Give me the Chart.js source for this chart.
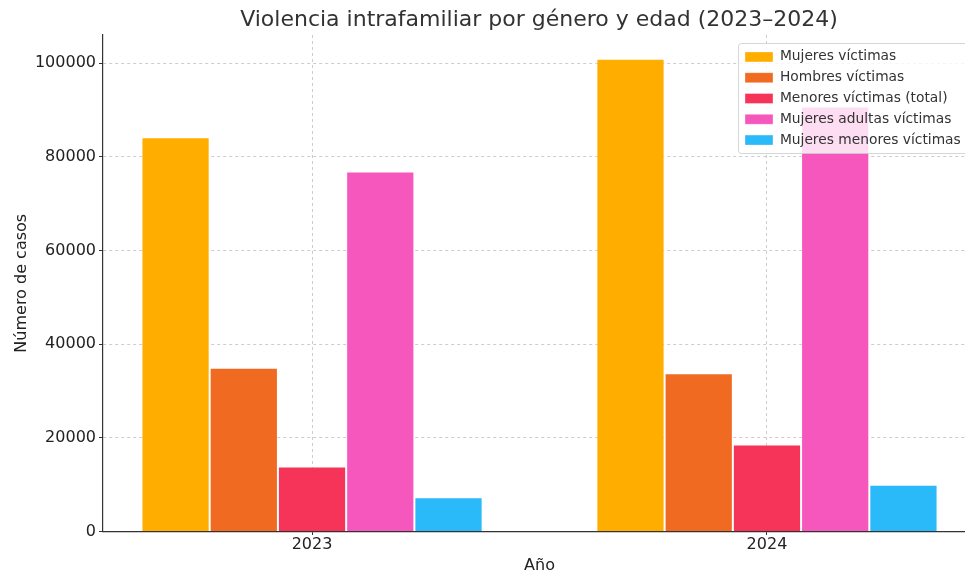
<!DOCTYPE html>
<html>
<head>
<meta charset="utf-8">
<script src="https://cdn.jsdelivr.net/npm/chart.js@4"></script>
<style>
  html, body { margin: 0; padding: 0; overflow: hidden; background: #fff; }
  #wrap { width: 1078px; height: 573px; }
</style>
</head>
<body>
<div id="wrap"><canvas id="chart" width="1078" height="573"></canvas></div>
<script>
const years = [2023, 2024];
const seriesNames = ['Mujeres víctimas', 'Hombres víctimas', 'Menores víctimas (total)', 'Mujeres adultas víctimas', 'Mujeres menores víctimas'];
const mujeres = [84200, 101000];
const hombres = [35000, 33800];
const menores = [13900, 18600];
const mujeresAdultas = [76900, 90800];
const mujeresMenores = [7300, 10000];
const yTicks = [0, 20000, 40000, 60000, 80000, 100000];

const colors = ['#FFAE00', '#F06A22', '#F63358', '#F557BD', '#2AB9F9'];
const values = [mujeres, hombres, menores, mujeresAdultas, mujeresMenores];

const font = 'DejaVu Sans';

// legend drawn after everything, with a translucent box like matplotlib
const legendOnTop = {
    id: 'legendOnTop',
    beforeLayout(chart) {
        chart.legend._layers = () => [];
    },
    afterDraw(chart) {
        const lg = chart.legend;
        const w = 232, h = 110;
        const x = 738, y = 43;
        const dy = y - lg.top;
        lg.left = x;
        lg.top += dy;
        lg.bottom += dy;
        const ctx = chart.ctx;
        ctx.save();
        ctx.fillStyle = 'rgba(255,255,255,0.8)';
        ctx.strokeStyle = 'rgba(204,204,204,0.8)';
        ctx.lineWidth = 1;
        ctx.beginPath();
        ctx.roundRect(x + 0.5, y + 0.5, w, h, 3);
        ctx.fill();
        ctx.stroke();
        ctx.restore();
        lg.draw();
    }
};

new Chart(document.getElementById('chart'), {
    type: 'bar',
    data: {
        labels: years,
        datasets: seriesNames.map((name, i) => ({
            label: name,
            data: values[i],
            backgroundColor: colors[i],
            borderColor: 'rgba(255,255,255,0.35)',
            borderWidth: 1,
            categoryPercentage: 0.75,
            barPercentage: 1
        }))
    },
    plugins: [legendOnTop],
    options: {
        responsive: false,
        animation: false,
        layout: { padding: 0 },
        plugins: {
            title: {
                display: true,
                text: 'Violencia intrafamiliar por género y edad (2023–2024)',
                color: '#333',
                font: { family: font, size: 22, weight: 'normal' },
                padding: { top: 7.5, bottom: 1.1 }
            },
            legend: {
                display: true,
                position: 'chartArea',
                align: 'start',
                labels: {
                    color: '#333',
                    font: { family: font, size: 13.8 },
                    boxWidth: 28,
                    boxHeight: 10,
                    padding: 7
                }
            },
            tooltip: { enabled: false }
        },
        scales: {
            x: {
                type: 'linear',
                min: 2022.5405,
                max: 2024.4595,
                offset: false,
                z: 1,
                afterBuildTicks: s => { s.ticks = years.map(v => ({ value: v })); },
                grid: {
                    offset: false,
                    color: '#cccccc',
                    tickColor: '#333',
                    tickLength: 3.5,
                    tickBorderDash: []
                },
                border: { color: '#333', width: 1.2, dash: [3, 3] },
                ticks: {
                    color: '#222',
                    font: { family: font, size: 16 },
                    padding: 0.5,
                    callback: v => String(v)
                },
                title: {
                    display: true,
                    text: 'Año',
                    color: '#222',
                    font: { family: font, size: 16, lineHeight: 0.9 },
                    padding: { top: 3.4, bottom: 0 }
                }
            },
            y: {
                min: 0,
                max: 106050,
                z: 1,
                afterBuildTicks: s => { s.ticks = yTicks.map(v => ({ value: v })); },
                afterFit: s => { s.width = 103; },
                grid: {
                    color: '#cccccc',
                    tickColor: '#333',
                    tickLength: 4,
                    tickBorderDash: []
                },
                border: { color: '#333', width: 1.2, dash: [3, 3] },
                ticks: {
                    color: '#222',
                    font: { family: font, size: 16 },
                    padding: 3,
                    callback: v => String(v)
                },
                title: {
                    display: true,
                    text: 'Número de casos',
                    color: '#222',
                    font: { family: font, size: 16 },
                    padding: { top: 12, bottom: 0 }
                }
            },
            // empty right-hand box: keeps the plot area's right edge where the axes end
            yRight: {
                type: 'linear',
                position: 'right',
                display: true,
                grid: { display: false, drawTicks: false },
                border: { display: false },
                ticks: { display: false },
                afterFit: s => { s.width = 102; }
            }
        }
    }
});
</script>
</body>
</html>
